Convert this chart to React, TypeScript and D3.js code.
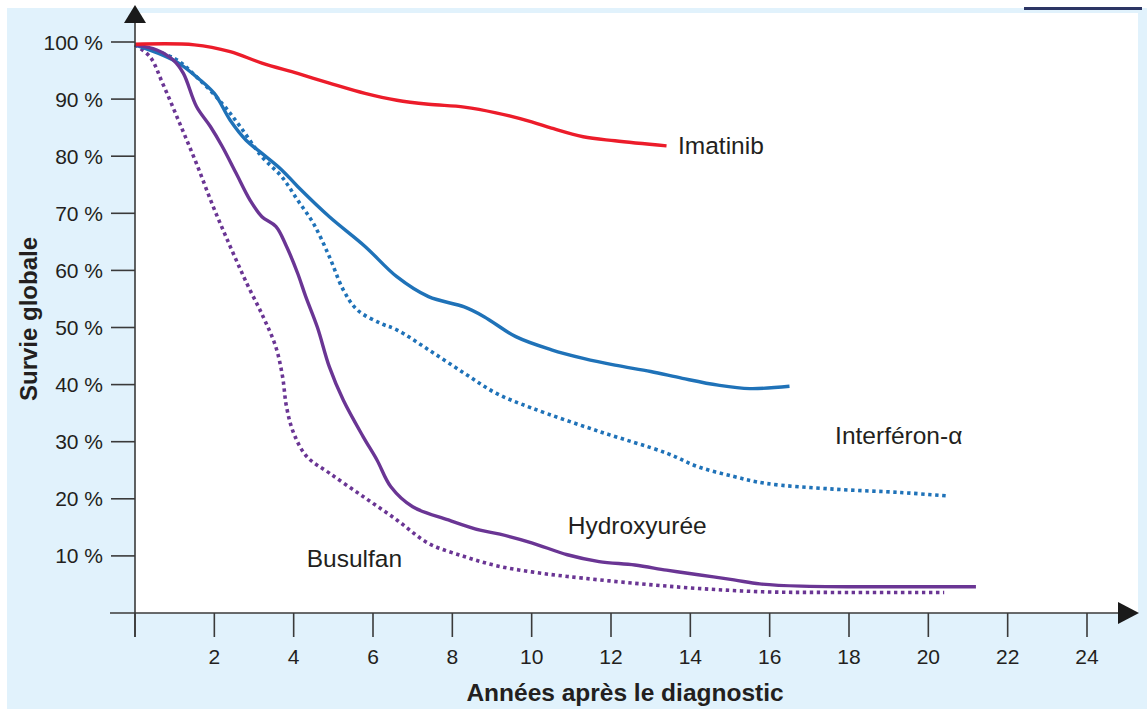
import React from "react";
import * as d3 from "d3";

const xTicks = [0, 2, 4, 6, 8, 10, 12, 14, 16, 18, 20, 22, 24];
const xTickLabels = ["", "2", "4", "6", "8", "10", "12", "14", "16", "18", "20", "22", "24"];
const yTicks = [10, 20, 30, 40, 50, 60, 70, 80, 90, 100];
const yTickLabels = ["10 %", "20 %", "30 %", "40 %", "50 %", "60 %", "70 %", "80 %", "90 %", "100 %"];

const imatinib: [number, number][] = [
  [0, 99.6], [1.5, 99.5], [2.4, 98.3], [3.2, 96.3], [4.1, 94.5], [4.9, 92.8], [5.8, 91.0],
  [6.6, 89.8], [7.4, 89.1], [8.3, 88.6], [9.1, 87.6], [10.0, 86.0], [10.5, 84.9], [11.3, 83.4],
  [12.1, 82.7], [13.4, 81.8],
];
const interferonSolid: [number, number][] = [
  [0, 99.5], [0.7, 97.7], [1.1, 96.3], [1.55, 93.9], [2.0, 91.0], [2.4, 86.3], [2.8, 82.8],
  [3.2, 80.5], [3.7, 77.6], [4.1, 74.7], [4.9, 69.4], [5.8, 64.2], [6.6, 58.9], [7.4, 55.4],
  [8.3, 53.6], [8.8, 51.9], [9.6, 48.4], [10.5, 46.1], [11.3, 44.6], [12.1, 43.4], [13.0, 42.3],
  [13.8, 41.1], [14.7, 39.9], [15.5, 39.3], [16.5, 39.7],
];
const interferonDotted: [number, number][] = [
  [0, 99.5], [1.0, 97.1], [1.55, 93.9], [2.2, 89.2], [2.65, 85.2], [3.2, 79.9], [3.7, 76.4],
  [4.1, 72.3], [4.5, 68.2], [4.9, 62.4], [5.25, 56.6], [5.6, 53.1], [6.2, 50.7], [6.6, 49.6],
  [7.4, 46.1], [8.3, 42.0], [9.1, 38.5], [10.0, 35.9], [11.7, 31.8], [13.4, 28.0], [14.2, 25.6],
  [15.1, 23.9], [15.9, 22.7], [17.6, 21.7], [19.3, 21.1], [20.5, 20.5],
];
const hydroxyuree: [number, number][] = [
  [0, 99.5], [0.55, 98.6], [0.97, 96.8], [1.22, 94.5], [1.55, 88.7], [1.9, 85.2], [2.2, 81.7],
  [2.55, 77.0], [2.9, 72.3], [3.2, 69.4], [3.55, 67.7], [3.8, 64.5], [4.1, 59.5], [4.3, 55.5],
  [4.6, 50.0], [4.9, 43.1], [5.25, 37.3], [5.75, 30.9], [6.1, 26.8], [6.45, 22.1], [7.0, 18.6],
  [7.9, 16.3], [8.7, 14.5], [9.2, 13.8], [10.0, 12.3], [10.9, 10.2], [11.7, 9.0], [12.6, 8.4],
  [13.4, 7.5], [14.2, 6.7], [15.1, 5.8], [15.75, 5.1], [16.8, 4.7], [18.4, 4.6], [21.2, 4.6],
];
const busulfan: [number, number][] = [
  [0, 99.5], [0.38, 97.4], [0.7, 92.7], [1.13, 85.7], [1.55, 78.7], [1.97, 71.2], [2.4, 64.2],
  [2.82, 57.7], [3.23, 51.9], [3.55, 46.6], [3.72, 41.4], [3.82, 36.1], [4.0, 31.5], [4.33, 27.4],
  [4.9, 24.5], [5.75, 20.4], [6.6, 16.3], [7.4, 12.2], [8.3, 9.9], [9.1, 8.3], [10.0, 7.2],
  [10.9, 6.4], [12.6, 5.2], [14.2, 4.3], [15.9, 3.7], [17.6, 3.6], [20.4, 3.6],
];

const labels = [
  { text: "Imatinib", t: 13.69, p: 80.4 },
  { text: "Interféron-α", t: 17.65, p: 29.6 },
  { text: "Hydroxyurée", t: 10.91, p: 13.8 },
  { text: "Busulfan", t: 4.33, p: 8.1 },
];

const RED = "#ec1c2a";
const BLUE = "#1f72b8";
const PURPLE = "#6a3594";
const AXIS = "#3a3a3a";
const TEXT = "#231f20";
const FONT = "'Liberation Sans', Arial, Helvetica, sans-serif";

export default function App() {
  const x = d3.scaleLinear().domain([0, 24]).range([135, 1087]);
  const y = d3.scaleLinear().domain([0, 100]).range([613, 42]);
  const line = d3
    .line<[number, number]>()
    .x((d) => x(d[0]))
    .y((d) => y(d[1]))
    .curve(d3.curveCatmullRom.alpha(0.5));

  const series = [
    { data: interferonDotted, color: BLUE, dotted: true },
    { data: busulfan, color: PURPLE, dotted: true },
    { data: interferonSolid, color: BLUE, dotted: false },
    { data: hydroxyuree, color: PURPLE, dotted: false },
    { data: imatinib, color: RED, dotted: false },
  ];

  return (
    <svg
      width={1147}
      height={709}
      style={{ position: "absolute", left: 0, top: 0, background: "#ffffff" }}
      fontFamily={FONT}
    >
      <rect x={7} y={8} width={1140} height={701} fill="#e1f2fc" />
      <rect x={135} y={13} width={1003} height={600} fill="#ffffff" />
      <rect x={1024} y={7} width={118} height={3} fill="#2c3564" />

      {series.map((s, i) => (
        <path
          key={i}
          d={line(s.data) || ""}
          fill="none"
          stroke={s.color}
          strokeWidth={s.dotted ? 3.6 : 3.4}
          strokeDasharray={s.dotted ? "3.4 3.6" : undefined}
          strokeLinecap="butt"
          strokeLinejoin="round"
        />
      ))}

      {/* axes */}
      <line x1={135} y1={20} x2={135} y2={637} stroke={AXIS} strokeWidth={1.6} />
      <line x1={110} y1={613} x2={1122} y2={613} stroke={AXIS} strokeWidth={1.6} />
      <path d="M124,23 L146,23 L135,5 Z" fill="#1a1a1a" />
      <path d="M1118,602 L1118,624 L1139,613 Z" fill="#1a1a1a" />

      {xTicks.map((t, i) => (
        <g key={"xt" + i}>
          <line x1={x(t)} x2={x(t)} y1={613} y2={637} stroke={AXIS} strokeWidth={1.6} />
          <text x={x(t)} y={664} textAnchor="middle" fontSize={21} fill={TEXT}>
            {xTickLabels[i]}
          </text>
        </g>
      ))}
      {yTicks.map((p, i) => (
        <g key={"yt" + i}>
          <line x1={111} x2={135} y1={y(p)} y2={y(p)} stroke={AXIS} strokeWidth={1.6} />
          <text x={103} y={y(p) + 7.5} textAnchor="end" fontSize={21} fill={TEXT}>
            {yTickLabels[i]}
          </text>
        </g>
      ))}

      {labels.map((l, i) => (
        <text key={"lb" + i} x={x(l.t)} y={y(l.p)} fontSize={24.5} fill={TEXT}>
          {l.text}
        </text>
      ))}

      <text x={625} y={701} textAnchor="middle" fontSize={24.5} fontWeight="bold" fill={TEXT}>
        Années après le diagnostic
      </text>
      <text
        transform="translate(37,319) rotate(-90)"
        textAnchor="middle"
        fontSize={24}
        fontWeight="bold"
        fill={TEXT}
      >
        Survie globale
      </text>
    </svg>
  );
}
